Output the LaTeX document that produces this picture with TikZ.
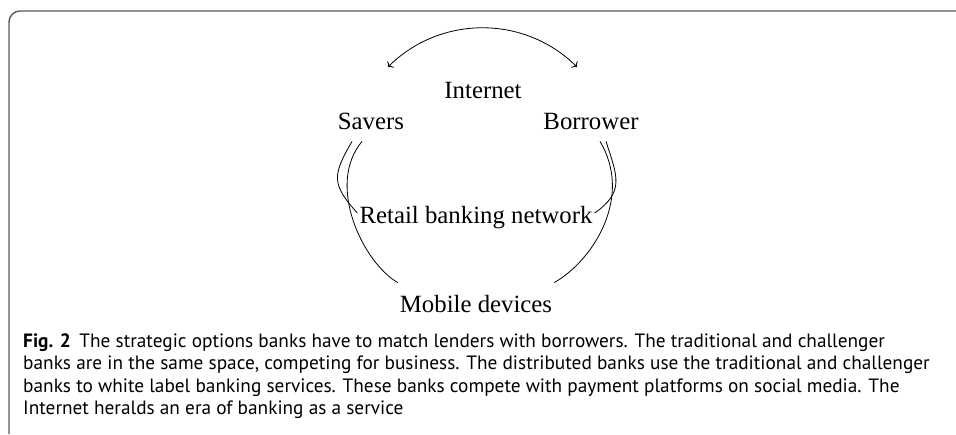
\documentclass[tikz,border=0pt]{standalone}
\usepackage{fontspec}
\setmainfont{Liberation Serif}
\newfontfamily\capfont{PT Sans}
\usetikzlibrary{arrows.meta}

\begin{document}
\begin{tikzpicture} [x = 1pt, y = -1pt,
  lbl/.style = {anchor = base, inner xsep = 2pt, inner ysep = 12pt, font = \fontsize{24.8}{30}\selectfont},
  link/.style = {line width = .8pt},
  tip/.style = {{To[length = 4pt, width = 9pt]}-{To[length = 4pt, width = 9pt]}},
  capline/.style = {anchor = base west, inner sep = 0pt, font = \capfont\fontsize{19.3}{23}\selectfont}]
\useasboundingbox (0,0) rectangle (956,434);
\draw[black!65, line width = 1.4pt, rounded corners = 11pt] (9,434) -- (9,11) -- (956,11);
\node[lbl] (int) at (483,98) {Internet};
\node[lbl] (sav) at (371,129) {Savers};
\node[lbl] (bor) at (591,129) {Borrower};
\node[lbl] (ret) at (476,223) {Retail banking network};
\node[lbl] (mob) at (476,312) {Mobile devices};
\coordinate (savtip) at (388,67);
\coordinate (bortip) at (577,67);
\draw[link, tip] (savtip) to[out = 45, in = 135] (bortip);
\draw[link] ([xshift = -19pt]sav.south) to[out = 240, in = 132, looseness = 1.4] ([yshift = 4pt]ret.west);
\draw[link] ([xshift = -9pt]sav.south) to[out = 230, in = 150, out looseness = 1, in looseness = .7] (mob.north west);
\draw[link] ([xshift = 15pt]bor.south) to[out = 288, in = 35, looseness = 1.3] ([yshift = 4pt]ret.east);
\draw[link] ([xshift = 9pt]bor.south) to[out = 301, in = 30, out looseness = 1.1, in looseness = .8] (mob.north east);
\node[capline] (cap1) at (23,347) {\textbf{Fig. 2}\hspace{.45em}The strategic options banks have to match lenders with borrowers. The traditional and challenger};
\node[capline] (cap2) at (23,369.5) {banks are in the same space, competing for business. The distributed banks use the traditional and challenger};
\node[capline] (cap3) at (23,392) {banks to white label banking services. These banks compete with payment platforms on social media. The};
\node[capline] (cap4) at (23,414.5) {Internet heralds an era of banking as a service};
\end{tikzpicture}
\end{document}
